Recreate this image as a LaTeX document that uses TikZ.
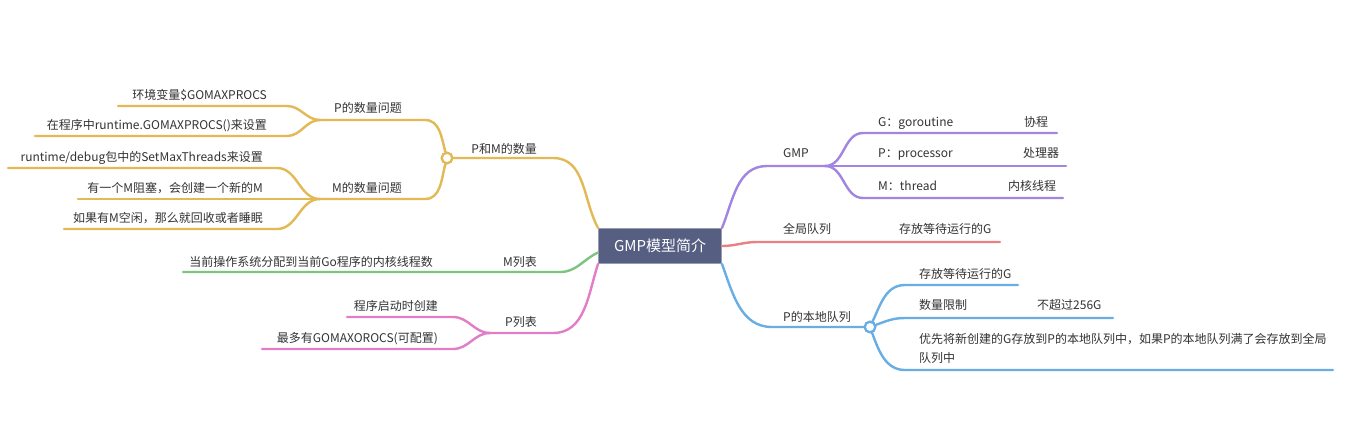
\documentclass[tikz,border=0pt]{standalone}
\usepackage{fontspec}
\setmainfont{Noto Sans CJK SC}
\usepackage{xcolor}
\usetikzlibrary{positioning}
\definecolor{rootfill}{RGB}{86,94,130}
\definecolor{rootedge}{RGB}{150,156,178}
\definecolor{txtgray}{RGB}{51,51,51}
\definecolor{cyellow}{RGB}{226,185,85}
\definecolor{cpurple}{RGB}{162,132,225}
\definecolor{cred}{RGB}{234,128,130}
\definecolor{cblue}{RGB}{104,174,228}
\definecolor{cgreen}{RGB}{125,196,128}
\definecolor{cpink}{RGB}{226,125,200}
\tikzset{
  rootbox/.style={draw=rootedge, line width=1pt, fill=rootfill, text=white, inner sep=0pt,
    minimum width=123pt, minimum height=35pt, font=\fontsize{15}{18}\selectfont},
  lbl/.style={inner sep=0pt, text=txtgray, font=\fontsize{12}{18.5}\selectfont},
  branch/.style={line width=2.4pt, line cap=round},
  hub/.style={circle, draw, fill=white, line width=2.2pt, minimum size=10.5pt, inner sep=0pt},
}
\begin{document}
\begin{tikzpicture}[x=1pt, y=1pt]
  \fill[white] (0,0) rectangle (1361,-426);
  \useasboundingbox (0,0) rectangle (1361,-426);

  \node[rootbox] (root) at (660,-246) {GMP模型简介};

  % P和M的数量
  \node[hub, draw=cyellow] (pmC) at (447,-158) {};
  \coordinate (pmE) at (553,-158);
  \coordinate (pqE) at (425,-120);
  \coordinate (pqJ) at (320,-120);
  \coordinate (mqE) at (425,-199);
  \coordinate (mqJ) at (320,-199);
  \coordinate (e1R) at (287,-106); \coordinate (e1L) at (118,-106);
  \coordinate (e2R) at (287,-136); \coordinate (e2L) at (35,-136);
  \coordinate (e3R) at (277,-168); \coordinate (e3L) at (8,-168);
  \coordinate (e4L) at (78,-199);
  \coordinate (e5R) at (277,-229); \coordinate (e5L) at (64,-229);
  \begin{scope}[branch, cyellow]
    \draw (root.north west) to[out=118,in=0] (pmE) -- (pmC.east);
    \draw (pmC) to[out=105,in=0] (pqE) -- (pqJ);
    \draw (pmC) to[out=-105,in=0] (mqE) -- (mqJ);
    \draw (pqJ) to[out=180,in=0] (e1R) -- (e1L);
    \draw (pqJ) to[out=180,in=0] (e2R) -- (e2L);
    \draw (mqJ) to[out=180,in=0] (e3R) -- (e3L);
    \draw (mqJ) -- (e4L);
    \draw (mqJ) to[out=180,in=0] (e5R) -- (e5L);
  \end{scope}
  \node[hub, draw=cyellow] at (pmC) {};
  \node[lbl, anchor=base east] (pm) at (537,-153) {P和M的数量};
  \node[lbl, anchor=base east] (pq) at (402,-112.5) {P的数量问题};
  \node[lbl, anchor=base east] (mq) at (402,-192.5) {M的数量问题};
  \node[lbl, anchor=base east] (e1) at (267,-99.5) {环境变量\$GOMAXPROCS};
  \node[lbl, anchor=base east] (e2) at (267,-129.5) {在程序中runtime.GOMAXPROCS()来设置};
  \node[lbl, anchor=base east] (e3) at (263,-161.5) {runtime/debug包中的SetMaxThreads来设置};
  \node[lbl, anchor=base east] (e4) at (263,-192.5) {有一个M阻塞，会创建一个新的M};
  \node[lbl, anchor=base east] (e5) at (263,-222.5) {如果有M空闲，那么就回收或者睡眠};

  % M列表
  \coordinate (mlE) at (560,-272);
  \coordinate (mlJ) at (470,-272);
  \coordinate (mlL) at (183,-272);
  \draw[branch, cgreen] (root.186) to[out=205,in=0] (mlE) -- (mlJ) -- (mlL);
  \node[lbl, anchor=base east] (ml) at (537,-266.5) {M列表};
  \node[lbl, anchor=base east] (m1) at (433,-266.5) {当前操作系统分配到当前Go程序的内核线程数};

  % P列表
  \coordinate (plE) at (553,-333);
  \coordinate (plJ) at (490,-333);
  \coordinate (p1R) at (453,-317); \coordinate (p1L) at (347,-317);
  \coordinate (p2R) at (453,-349); \coordinate (p2L) at (262,-349);
  \begin{scope}[branch, cpink]
    \draw (root.south west) to[out=-108,in=0] (plE) -- (plJ);
    \draw (plJ) to[out=180,in=0] (p1R) -- (p1L);
    \draw (plJ) to[out=180,in=0] (p2R) -- (p2L);
  \end{scope}
  \node[lbl, anchor=base east] (pl) at (537,-326.5) {P列表};
  \node[lbl, anchor=base east] (p1) at (438,-310.5) {程序启动时创建};
  \node[lbl, anchor=base east] (p2) at (438,-342.5) {最多有GOMAXOROCS(可配置)};

  % GMP
  \coordinate (gmS) at (767,-166);
  \coordinate (gmJ) at (825,-166);
  \coordinate (g1L) at (863,-133); \coordinate (g1R) at (1057,-133);
  \coordinate (g2R) at (1066,-166);
  \coordinate (g3L) at (863,-198); \coordinate (g3R) at (1063,-198);
  \begin{scope}[branch, cpurple]
    \draw (root.north east) to[out=68,in=180] (gmS) -- (gmJ);
    \draw (gmJ) to[out=0,in=180] (g1L) -- (g1R);
    \draw (gmJ) -- (g2R);
    \draw (gmJ) to[out=0,in=180] (g3L) -- (g3R);
  \end{scope}
  \node[lbl, anchor=base west] (gm) at (783,-157.5) {GMP};
  \node[lbl, anchor=base west] (g1) at (878,-126.5) {G：goroutine};
  \node[lbl, anchor=base west] (g1a) at (1024,-126.5) {协程};
  \node[lbl, anchor=base west] (g2) at (878,-157.5) {P：processor};
  \node[lbl, anchor=base west] (g2a) at (1023,-157.5) {处理器};
  \node[lbl, anchor=base west] (g3) at (878,-190.5) {M：thread};
  \node[lbl, anchor=base west] (g3a) at (1008,-190.5) {内核线程};

  % 全局队列
  \coordinate (gqS) at (757,-242);
  \coordinate (gqR) at (1000,-242);
  \draw[branch, cred] (root.east) to[out=0,in=180] (gqS) -- (gqR);
  \node[lbl, anchor=base west] (gq) at (783,-233.5) {全局队列};
  \node[lbl, anchor=base west] (gq1) at (899,-233.5) {存放等待运行的G};

  % P的本地队列
  \node[hub, draw=cblue] (lqC) at (870,-327) {};
  \coordinate (lqS) at (772,-327);
  \coordinate (c1L) at (905,-285); \coordinate (c1R) at (1018,-285);
  \coordinate (c2L) at (905,-318); \coordinate (c2R) at (1113,-318);
  \coordinate (c3L) at (905,-370); \coordinate (c3R) at (1333,-370);
  \begin{scope}[branch, cblue]
    \draw (root.south east) to[out=-70,in=180] (lqS) -- (lqC.west);
    \draw (lqC) to[out=65,in=180] (c1L) -- (c1R);
    \draw (lqC) to[out=20,in=180] (c2L) -- (c2R);
    \draw (lqC) to[out=-70,in=180] (c3L) -- (c3R);
  \end{scope}
  \node[hub, draw=cblue] at (lqC) {};
  \node[lbl, anchor=base west] (lq) at (783,-321.5) {P的本地队列};
  \node[lbl, anchor=base west] (c1) at (919,-278.5) {存放等待运行的G};
  \node[lbl, anchor=base west] (c2) at (919,-309.5) {数量限制};
  \node[lbl, anchor=base west] (c2a) at (1037,-309.5) {不超过256G};
  \node[lbl, anchor=base west, align=left] (c3) at (919,-362)
    {优先将新创建的G存放到P的本地队列中，如果P的本地队列满了会存放到全局\\队列中};
\end{tikzpicture}
\end{document}
